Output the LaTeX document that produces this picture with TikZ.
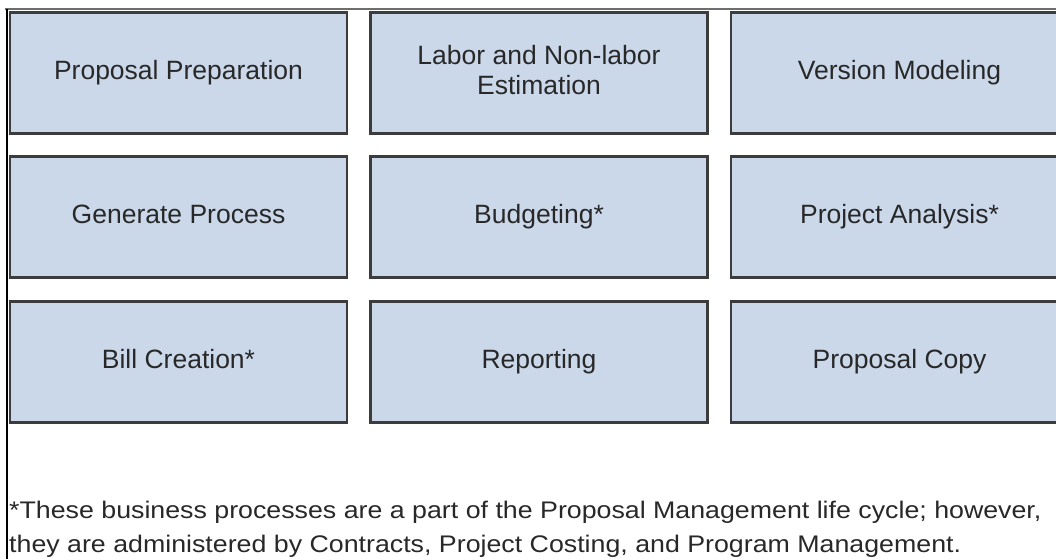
\documentclass[tikz,border=0pt]{standalone}
\usepackage{fontspec}
\setmainfont{Liberation Sans}
\definecolor{boxfill}{RGB}{203,216,234}
\definecolor{boxline}{RGB}{60,60,60}
\definecolor{txt}{RGB}{40,40,40}
\definecolor{frameline}{RGB}{110,110,110}
\tikzset{
  procbox/.style={draw=boxline, line width=2.4pt, fill=boxfill, rectangle,
    minimum width=337pt, minimum height=121pt, inner sep=0pt, align=center,
    text=txt, font=\fontsize{26.5}{30}\selectfont,
    text height=19pt, text depth=5.5pt},
  twoline/.style={text height=49pt},
  note/.style={anchor=base west, inner sep=0pt, align=left, text=txt,
    font=\fontsize{24}{34}\selectfont\addfontfeature{FakeStretch=1.115}}
}
\begin{document}
\begin{tikzpicture}[x=1pt,y=-1pt]
\useasboundingbox (0,0) rectangle (1056,559);
\clip (0,0) rectangle (1056,559);
% frame lines
\draw[frameline, line width=1.5pt] (5,9) -- (1056,9);
\draw[black, line width=1.2pt] (7,9) -- (7,559);
% row 1
\node[procbox] (pp) at (178.5,73) {Proposal Preparation};
\node[procbox, twoline] (le) at (539,73) {Labor and Non-labor\\Estimation};
\node[procbox] (vm) at (899.5,73) {Version Modeling};
% row 2
\node[procbox] (gp) at (178.5,217) {Generate Process};
\node[procbox] (bu) at (539,217) {Budgeting*};
\node[procbox] (pa) at (899.5,217) {Project Analysis*};
% row 3
\node[procbox] (bc) at (178.5,362) {Bill Creation*};
\node[procbox] (re) at (539,362) {Reporting};
\node[procbox] (pc) at (899.5,362) {Proposal Copy};
% footnote
\node[note] (fn) at (9,552) {*These business processes are a part of the Proposal Management life cycle; however,\\they are administered by Contracts, Project Costing, and Program Management.};
\end{tikzpicture}
\end{document}
